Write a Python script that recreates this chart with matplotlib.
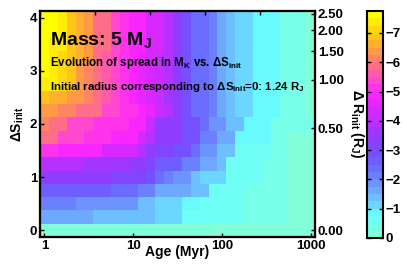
import numpy as np
import matplotlib
matplotlib.use('Agg')
import matplotlib.pyplot as plt
from matplotlib.colors import LinearSegmentedColormap
from matplotlib.ticker import NullLocator

plt.rcParams['font.family'] = 'Liberation Sans'
plt.rcParams['font.weight'] = 'bold'
plt.rcParams['mathtext.fontset'] = 'custom'
plt.rcParams['mathtext.rm'] = 'Liberation Sans:bold'
plt.rcParams['mathtext.it'] = 'Liberation Sans:bold'
plt.rcParams['mathtext.bf'] = 'Liberation Sans:bold'
plt.rcParams['axes.linewidth'] = 1.5

# ages (Myr), one column each
ages = [1, 1.26, 1.58, 2.0, 2.51, 3.16, 3.98, 5.01, 6.31, 7.94,
        10, 12.6, 15.8, 20.0, 25.1, 31.6, 39.8, 50.1, 63.1, 79.4,
        100, 126, 158, 200, 251, 316, 398, 501, 631, 794, 1000]
# initial entropy offsets, one row each
delta_s = [0.0, 0.25, 0.5, 0.75, 1.0, 1.25, 1.5, 1.75, 2.0,
           2.25, 2.5, 2.75, 3.0, 3.25, 3.5, 3.75, 4.0]

# size of the spread in M_K (mag), rows follow delta_s
spread_mag = [
    [0.1] * 31,
    [1.75] * 6 + [1.5] * 7 + [1.1] * 3 + [0.75] * 7 + [0.4] * 5 + [0.2] * 3,
    [2.1] * 4 + [1.85] * 7 + [1.5] * 2 + [1.2] * 3 + [1.0] * 2 + [0.75] * 5 + [0.4] * 5 + [0.2] * 3,
    [2.75] * 8 + [2.5] * 3 + [2.2] * 2 + [1.6] * 4 + [1.3] * 2 + [0.75] * 4 + [0.45] * 5 + [0.2] * 3,
    [3.5, 3.5, 3.3, 3.3, 3.3, 3.3, 3.3, 3.3, 3.05, 3.05, 3.05, 3.05, 2.8, 2.5, 2.25, 1.9,
     1.9, 1.5, 1.2, 1.2, 1.2, 0.75, 0.75, 0.75, 0.75, 0.45, 0.45, 0.45, 0.2, 0.2, 0.2],
    [4.0, 4.0, 3.8, 3.8, 3.8, 3.6, 3.6, 3.6, 3.6, 3.6, 3.5, 3.4, 3.1, 2.6, 2.6, 2.6,
     2.05, 2.05, 1.6, 1.6, 1.3, 0.75, 0.75, 0.75, 0.75, 0.45, 0.45, 0.45, 0.2, 0.2, 0.2],
    [5.2, 5.2, 4.8, 4.8, 4.8, 4.8, 4.8, 4.4, 4.4, 4.4, 4.4, 3.9, 3.5, 3.2, 3.2, 2.85,
     2.85, 2.4, 1.9, 1.9, 1.45, 1.45, 0.75, 0.75, 0.75, 0.75, 0.45, 0.45, 0.2, 0.2, 0.2],
    [5.9, 5.9, 5.4, 5.4, 5.4, 5.15, 5.15, 5.15, 5.0, 5.0, 5.0, 4.3, 3.9, 3.4, 3.4, 3.4,
     2.9, 2.9, 2.25, 2.25, 1.6, 1.6, 0.8, 0.8, 0.8, 0.8, 0.45, 0.45, 0.25, 0.25, 0.25],
    [6.1, 5.85, 5.85, 5.45, 5.45, 5.45, 5.15, 5.15, 5.15, 5.15, 4.9, 4.9, 4.2, 3.5, 3.5, 3.5,
     3.0, 3.0, 2.5, 1.9, 1.9, 1.4, 1.4, 0.8, 0.8, 0.8, 0.5, 0.5, 0.5, 0.3, 0.3],
    [6.45, 6.45, 6.1, 6.1, 5.85, 5.85, 5.85, 5.45, 5.45, 5.15, 5.15, 5.0, 4.6, 4.2, 3.8, 3.4,
     3.0, 2.5, 2.5, 2.1, 1.7, 1.4, 1.1, 1.1, 0.8, 0.8, 0.8, 0.5, 0.5, 0.5, 0.25],
    [7.0, 6.7, 6.7, 6.5, 6.3, 6.1, 5.9, 5.6, 5.4, 5.1, 4.9, 4.7, 4.4, 4.1, 3.7, 3.3,
     3.0, 2.5, 2.5, 2.1, 1.7, 1.4, 1.1, 1.1, 0.8, 0.8, 0.8, 0.5, 0.5, 0.5, 0.25],
    [7.5, 7.3, 7.1, 6.8, 6.5, 6.2, 5.9, 5.6, 5.4, 5.1, 4.9, 4.6, 4.4, 4.1, 3.8, 3.4,
     3.0, 2.5, 2.4, 2.1, 1.7, 1.4, 1.1, 1.1, 0.8, 0.8, 0.8, 0.5, 0.5, 0.5, 0.25],
    [7.6, 7.4, 7.2, 6.9, 6.5, 6.2, 5.9, 5.7, 5.4, 5.1, 4.9, 4.7, 4.4, 4.2, 3.8, 3.4,
     3.0, 2.5, 2.5, 2.1, 1.7, 1.4, 1.1, 1.1, 0.8, 0.8, 0.8, 0.5, 0.5, 0.5, 0.25],
    [7.6, 7.5, 7.2, 6.9, 6.6, 6.3, 6.0, 5.7, 5.4, 5.2, 5.0, 4.7, 4.5, 4.2, 3.9, 3.4,
     3.0, 2.5, 2.5, 2.1, 1.7, 1.4, 1.1, 1.1, 0.8, 0.8, 0.8, 0.5, 0.5, 0.5, 0.25],
    [7.7, 7.5, 7.3, 7.0, 6.6, 6.3, 6.0, 5.8, 5.5, 5.2, 5.0, 4.8, 4.5, 4.3, 3.9, 3.5,
     3.0, 2.5, 2.5, 2.1, 1.7, 1.4, 1.1, 1.1, 0.8, 0.8, 0.8, 0.5, 0.5, 0.5, 0.25],
    [7.7, 7.6, 7.3, 7.0, 6.6, 6.3, 6.0, 5.8, 5.5, 5.2, 5.0, 4.8, 4.5, 4.3, 3.9, 3.5,
     3.0, 2.5, 2.5, 2.1, 1.7, 1.4, 1.1, 1.1, 0.8, 0.8, 0.8, 0.5, 0.5, 0.5, 0.25],
    [7.7, 7.6, 7.3, 7.0, 6.6, 6.3, 6.0, 5.8, 5.5, 5.2, 5.0, 4.8, 4.5, 4.3, 3.9, 3.5,
     3.0, 2.5, 2.5, 2.1, 1.7, 1.4, 1.1, 1.1, 0.8, 0.8, 0.8, 0.5, 0.5, 0.5, 0.25],
]
spread = -np.array(spread_mag)

# right axis: initial radius offsets and where they sit on the delta_s axis
dr_labels = ['0.00', '0.50', '1.00', '1.50', '2.00', '2.50']
dr_at_ds = [0.0, 1.92, 2.83, 3.37, 3.76, 4.07]

cbar_ticks = [-7, -6, -5, -4, -3, -2, -1, 0]

# colour map, yellow (most negative) to aquamarine (0)
anchors = [(7.75, (1.0, 1.0, 0.0)), (7.0, (1.0, 0.78, 0.1)), (6.5, (1.0, 0.62, 0.25)),
           (6.0, (1.0, 0.45, 0.5)), (5.5, (1.0, 0.3, 0.78)), (5.0, (1.0, 0.15, 1.0)),
           (4.5, (0.88, 0.15, 1.0)), (4.0, (0.75, 0.18, 1.0)), (3.5, (0.6, 0.22, 1.0)),
           (3.0, (0.48, 0.28, 1.0)), (2.5, (0.42, 0.38, 1.0)), (2.0, (0.42, 0.52, 1.0)),
           (1.5, (0.43, 0.68, 1.0)), (1.0, (0.42, 0.85, 1.0)), (0.75, (0.4, 1.0, 1.0)),
           (0.4, (0.45, 1.0, 0.95)), (0.0, (0.5, 1.0, 0.85))]
cmap = LinearSegmentedColormap.from_list(
    'spread', [(1 - m / 7.75, c) for m, c in anchors], N=31)

# cell edges
a = np.array(ages)
mid = np.sqrt(a[:-1] * a[1:])
x_edges = np.concatenate([[a[0] ** 2 / mid[0]], mid, [a[-1] ** 2 / mid[-1]]])
d = np.array(delta_s)
y_edges = np.concatenate([[d[0] - 0.125], (d[:-1] + d[1:]) / 2, [d[-1] + 0.125]])

fig = plt.figure(figsize=(4.07, 2.65), dpi=100)
ax = fig.add_axes([0.0983, 0.1057, 0.6757, 0.8528])
mesh = ax.pcolormesh(x_edges, y_edges, spread, cmap=cmap, vmin=-7.75, vmax=0,
                     shading='flat', antialiased=False, edgecolors='none')
ax.set_xscale('log')
ax.set_xlim(x_edges[0], x_edges[-1])
ax.set_ylim(y_edges[0], y_edges[-1])
ax.set_xticks([1, 10, 100, 1000])
ax.set_xticklabels(['1', '10', '100', '1000'])
ax.xaxis.set_minor_locator(NullLocator())
ax.set_yticks([0, 1, 2, 3, 4])
ax.tick_params(direction='in', length=3, width=1, labelsize=9.5, top=False, right=False, pad=2)
ax.set_xlabel('Age (Myr)', fontsize=10, fontweight='bold', labelpad=-5)
ax.set_ylabel('ΔS$_\\mathrm{init}$', fontsize=10, fontweight='bold', labelpad=3)

# right axis with radius labels
ax2 = ax.twinx()
ax2.set_ylim(ax.get_ylim())
ax2.set_yticks(dr_at_ds)
ax2.set_yticklabels(dr_labels)
ax2.tick_params(direction='in', length=3, width=1, labelsize=9.5, pad=2)
ax2.set_ylabel('Δ R$_\\mathrm{init}$ (R$_\\mathrm{J}$)', fontsize=10, fontweight='bold',
               rotation=270, va='bottom', labelpad=3)

# top ticks from the overlay axes
top = ax.twiny()
top.set_xscale('linear')
top.set_xlim(0, 1)
top.set_xticks(np.arange(0, 1.01, 0.2))
top.tick_params(direction='in', length=3, width=1, labeltop=False)

ax.text(0.036, 0.85, 'Mass: 5 M$_\\mathrm{J}$', transform=ax.transAxes,
        fontsize=14, fontweight='bold', va='baseline')
ax.text(0.036, 0.757, 'Evolution of spread in M$_\\mathrm{K}$ vs. ΔS$_\\mathrm{init}$',
        transform=ax.transAxes, fontsize=8.3, fontweight='bold', va='baseline')
ax.text(0.036, 0.65, 'Initial radius corresponding to ΔS$_\\mathrm{init}$=0: 1.24 R$_\\mathrm{J}$',
        transform=ax.transAxes, fontsize=8.2, fontweight='bold', va='baseline')

cax = fig.add_axes([0.9017, 0.1019, 0.0393, 0.8566])
cb = fig.colorbar(mesh, cax=cax)
cb.set_ticks(cbar_ticks)
cb.ax.invert_yaxis()
cb.outline.set_linewidth(1.5)
cb.ax.tick_params(direction='in', length=3, width=1, labelsize=9.5, left=True, right=True, pad=2)

fig.savefig('out.png', dpi=100)
